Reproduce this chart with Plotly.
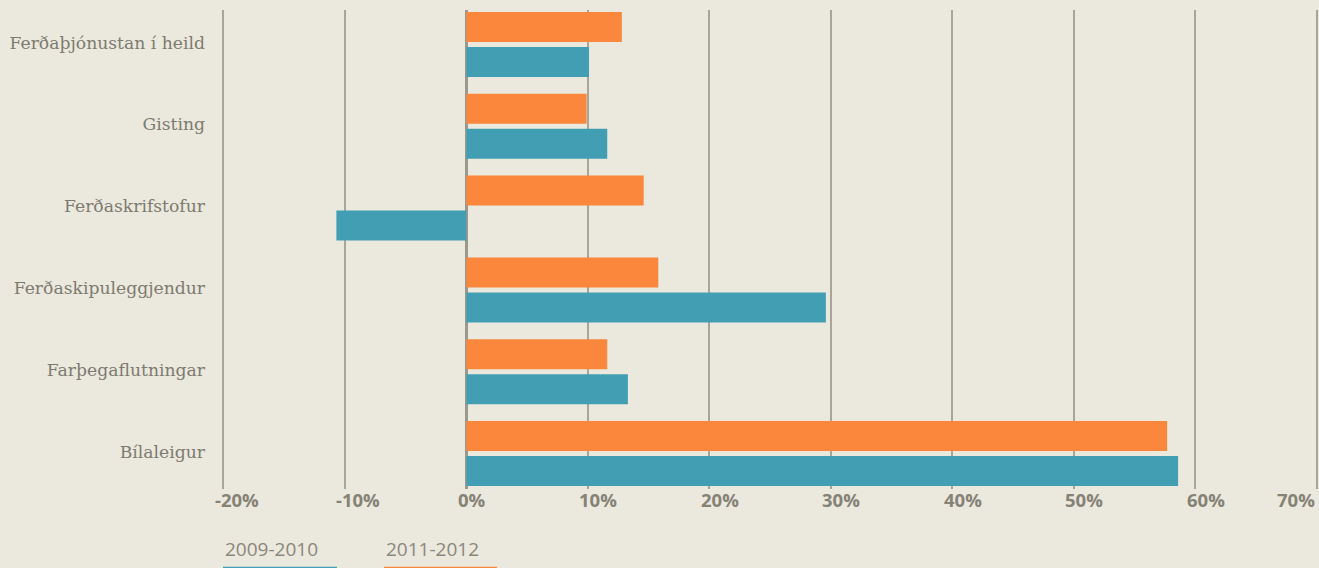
import plotly.graph_objects as go

# Growth by sector of Icelandic tourism, percent
categories = [
    "Ferðaþjónustan í heild",
    "Gisting",
    "Ferðaskrifstofur",
    "Ferðaskipuleggjendur",
    "Farþegaflutningar",
    "Bílaleigur",
]
growth_2011_2012 = [12.8, 9.9, 14.6, 15.8, 11.6, 57.7]
growth_2009_2010 = [10.1, 11.6, -10.7, 29.6, 13.3, 58.6]
tick_values = [-20, -10, 0, 10, 20, 30, 40, 50, 60, 70]
tick_labels = [f"{v}%" for v in tick_values]
series_names = ["2009-2010", "2011-2012"]

BG = "#ebe8dd"
ORANGE = "#fa873c"
TEAL = "#429fb3"
GRID = "#a8a59b"
TICK_TEXT = "#858276"
CAT_TEXT = "#7d7b70"

fig = go.Figure()
fig.add_trace(go.Bar(
    y=categories, x=growth_2011_2012, orientation="h",
    marker=dict(color=ORANGE, line=dict(width=0)), name=series_names[1],
))
fig.add_trace(go.Bar(
    y=categories, x=growth_2009_2010, orientation="h",
    marker=dict(color=TEAL, line=dict(width=0)), name=series_names[0],
))

# Percentage labels under the value axis, left-aligned just before each gridline
for i, (v, lab) in enumerate(zip(tick_values, tick_labels)):
    last = i == len(tick_values) - 1
    fig.add_annotation(
        x=v, xref="x", y=-0.022, yref="paper",
        text=lab, showarrow=False,
        xanchor="right" if last else "left",
        xshift=0 if last else -10.5,
        yanchor="middle",
        font=dict(family="Open Sans", size=18.5, color=TICK_TEXT, weight="bold"),
    )

# Legend: series name with a coloured underline
legend_items = [(series_names[0], TEAL, 0.0018, 0.1056), (series_names[1], ORANGE, 0.1484, 0.2514)]
for name, color, x0, x1 in legend_items:
    fig.add_annotation(
        x=x0, xref="paper", y=-0.125, yref="paper",
        text=name, showarrow=False, xanchor="left", yanchor="middle",
        font=dict(family="Open Sans", size=19, color="#8a877c"),
    )
    fig.add_shape(
        type="line", xref="paper", yref="paper",
        x0=x0, x1=x1, y0=-0.1655, y1=-0.1655,
        line=dict(color=color, width=3),
    )

fig.update_layout(
    width=1319, height=568,
    paper_bgcolor=BG, plot_bgcolor=BG,
    margin=dict(l=221, r=0, t=10, b=79),
    barmode="group", bargap=0.144, bargroupgap=0.143,
    showlegend=False,
    xaxis=dict(
        range=[-20.2, 70.2], tickvals=tick_values, showticklabels=False,
        showgrid=True, gridcolor=GRID, gridwidth=1.6,
        zeroline=True, zerolinecolor="#9b988e", zerolinewidth=3,
        showline=False, ticks="",
    ),
    yaxis=dict(
        type="category", categoryorder="array", categoryarray=categories,
        range=[5.434, -0.422],
        showgrid=False, zeroline=False, showline=False, ticks="",
        ticklabelstandoff=15,
        ticklabelshift=2,
        tickfont=dict(family="DejaVu Serif", size=17.2, color=CAT_TEXT),
    ),
)

fig.write_html("out.html")
